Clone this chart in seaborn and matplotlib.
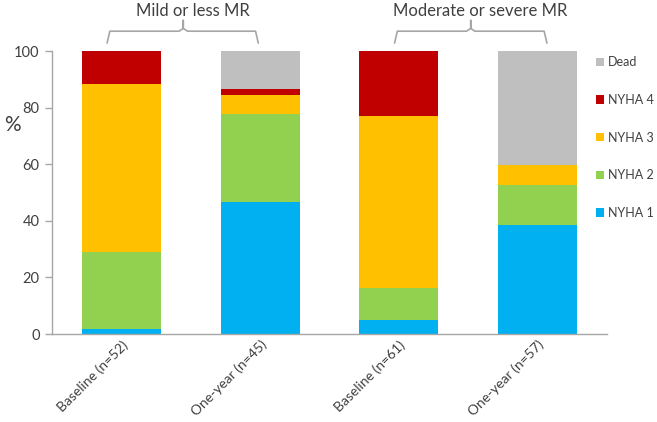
import matplotlib
matplotlib.use("Agg")
import matplotlib.pyplot as plt
from matplotlib.patches import Patch
import numpy as np
import pandas as pd
import seaborn as sns

# values in % of each group
groups = ["Baseline (n=52)", "One-year (n=45)", "Baseline (n=61)", "One-year (n=57)"]
nyha1 = [1.9, 46.7, 4.9, 38.6]
nyha2 = [26.9, 31.1, 11.5, 14.0]
nyha3 = [59.6, 6.7, 60.7, 7.0]
nyha4 = [11.5, 2.2, 23.0, 0.0]
dead = [0.0, 13.3, 0.0, 40.4]

series_names = ["NYHA 1", "NYHA 2", "NYHA 3", "NYHA 4", "Dead"]
colors = ["#00B0F0", "#92D050", "#FFC000", "#C00000", "#BFBFBF"]
group_titles = ["Mild or less MR", "Moderate or severe MR"]

sns.set_style("white")
plt.rcParams["font.family"] = ["Lato", "DejaVu Sans"]

df = pd.DataFrame({"group": groups, "NYHA 1": nyha1, "NYHA 2": nyha2,
                   "NYHA 3": nyha3, "NYHA 4": nyha4, "Dead": dead})
cum = df[series_names].cumsum(axis=1)
cum["group"] = df["group"]

fig = plt.figure(figsize=(6.57, 4.22), dpi=100)
ax = fig.add_axes([52 / 657, 88 / 422, 555 / 657, 283 / 422])

# draw cumulative totals from the top series down so each stack shows
for name, col in reversed(list(zip(series_names, colors))):
    sns.barplot(data=cum, x="group", y=name, color=col, width=0.57,
                saturation=1, ax=ax, edgecolor="none")

ax.set_xlim(-0.5, 3.5)
ax.set_ylim(0, 100)
ax.set_yticks([0, 20, 40, 60, 80, 100])
ax.set_xlabel("")
ax.set_ylabel("")
ax.tick_params(axis="y", length=5, width=1, color="#A6A6A6", labelsize=10.5,
               labelcolor="#404040", left=True, pad=4)
ax.tick_params(axis="x", length=0, labelsize=10, labelcolor="#404040", pad=3)
for lab in ax.get_xticklabels():
    lab.set_rotation(45)
    lab.set_ha("right")
    lab.set_rotation_mode("anchor")
for s in ["top", "right"]:
    ax.spines[s].set_visible(False)
for s in ["left", "bottom"]:
    ax.spines[s].set_color("#A6A6A6")
    ax.spines[s].set_linewidth(1)

fig.text(12 / 657, 1 - 125 / 422, "%", fontsize=15, color="#404040",
         ha="center", va="center")

# curly brackets above the two group pairs
brackets = [(-0.103, 0.446, 0.987), (1.969, 2.518, 3.067)]
for (x0, xm, x1), title in zip(brackets, group_titles):
    ax.plot([x0, x0 + 0.02, xm - 0.03, xm, xm, xm, xm + 0.03, x1 - 0.02, x1],
            [102.8, 107, 107, 108, 110.8, 108, 107, 107, 102.8],
            color="#A6A6A6", lw=1.2, clip_on=False)
    ax.text(xm + 0.07, 114.3, title, fontsize=12, color="#404040",
            ha="center", va="center", clip_on=False)

handles = [Patch(facecolor=c, edgecolor="none", label=n)
           for n, c in zip(series_names, colors)][::-1]
fig.legend(handles=handles, loc="upper left",
           bbox_to_anchor=(590 / 657, 1 - 50 / 422), frameon=False,
           fontsize=9, handlelength=0.65, handleheight=0.65,
           handletextpad=0.3, labelspacing=2.05, borderpad=0,
           labelcolor="#404040")

fig.savefig("out.png", dpi=100)
